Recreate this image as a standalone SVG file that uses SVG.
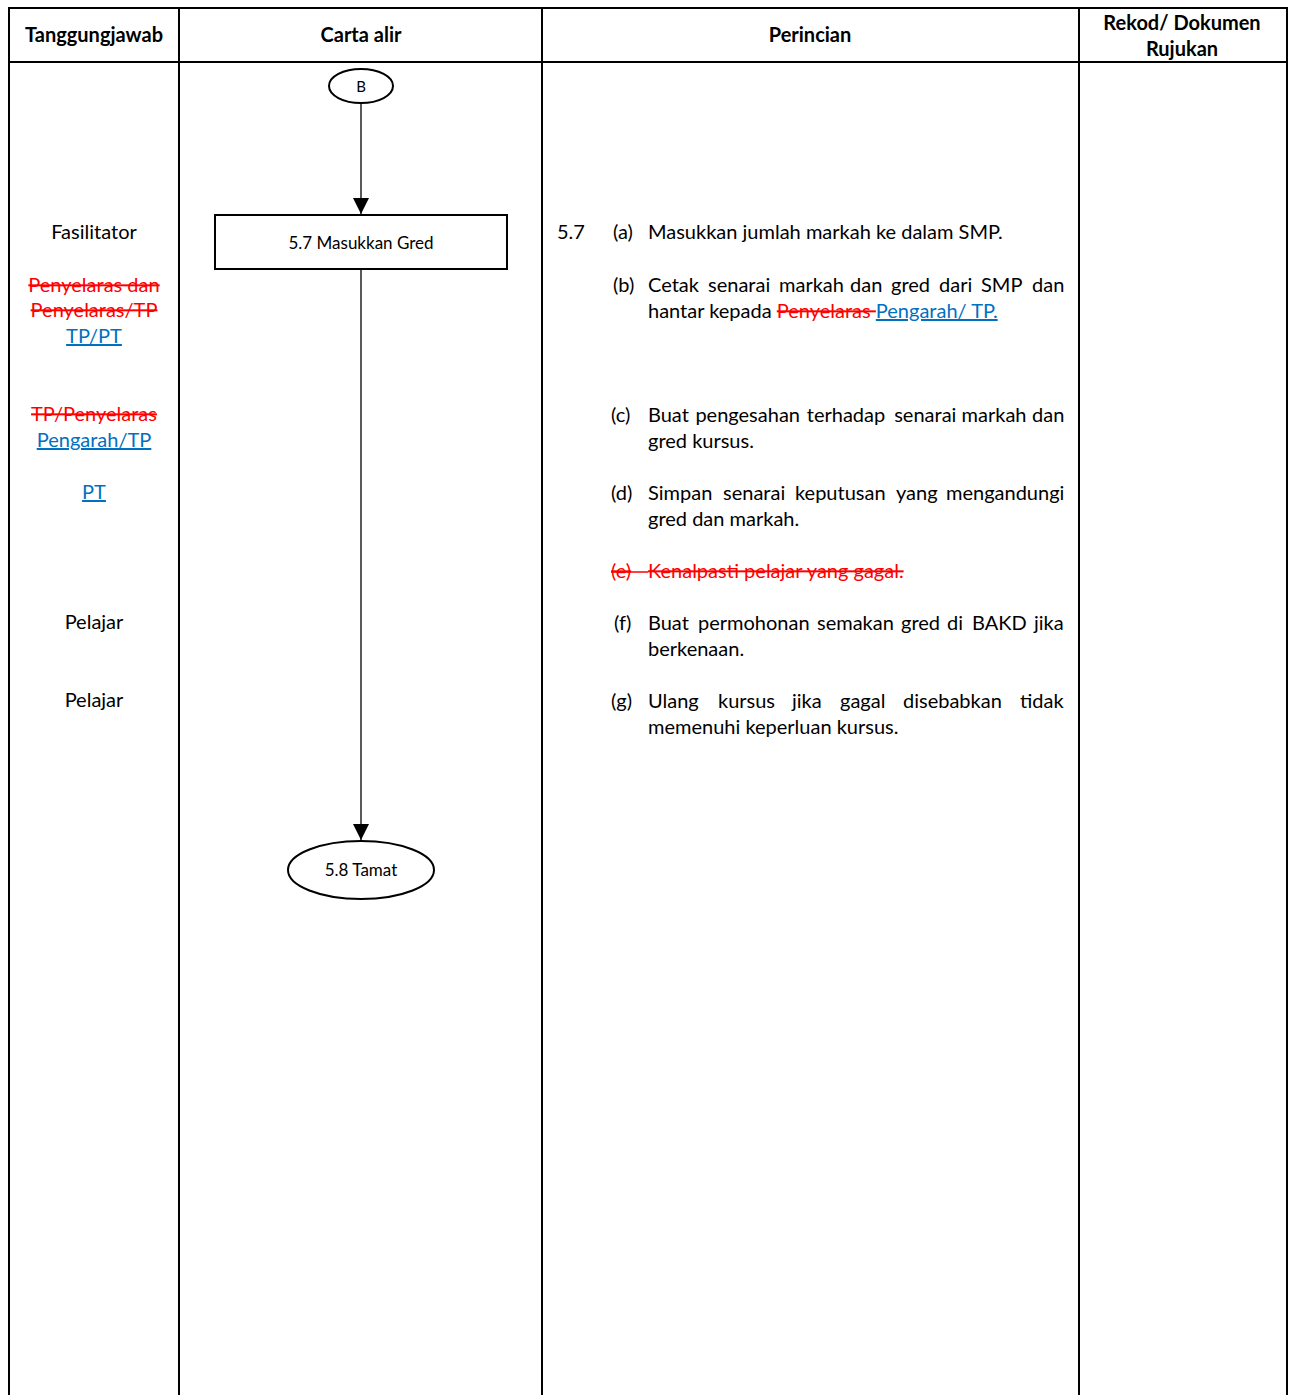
<svg xmlns="http://www.w3.org/2000/svg" width="1290" height="1395" viewBox="0 0 1290 1395">
<style>
text{font-family:Lato,"Open Sans","Liberation Sans",sans-serif;fill:#000}
.h{font-size:20px;font-weight:bold;text-anchor:middle}
.t{font-size:20px}
.c{text-anchor:middle}
.n{font-size:17px;text-anchor:middle}
.del{fill:#ff0000;text-decoration:line-through}
.ins{fill:#0070c0;text-decoration:underline}
.grid{stroke:#000;stroke-width:2;fill:none}
.shape{stroke:#000;stroke-width:2;fill:#fff}
.conn{stroke:#000;stroke-width:1.3;fill:none}
</style>
<defs>
<marker id="ah" viewBox="0 0 10 10" refX="10" refY="5" markerWidth="16" markerHeight="16" markerUnits="userSpaceOnUse" orient="auto">
<path d="M0,0 L10,5 L0,10 z" fill="#000"/>
</marker>
</defs>
<rect width="1290" height="1395" fill="#fff"/>
<g id="table">
<path class="grid" d="M9,1395 V8 H1287 V1395 M179,8 V1395 M542,8 V1395 M1079,8 V1395 M9,62 H1287"/>
<text class="h" x="94" y="42">Tanggungjawab</text>
<text class="h" x="361" y="42">Carta alir</text>
<text class="h" x="810" y="42">Perincian</text>
<text class="h" x="1182" y="30">Rekod/ Dokumen</text>
<text class="h" x="1182" y="56">Rujukan</text>
</g>
<g id="tanggungjawab">
<text class="t c" x="94" y="239">Fasilitator</text>
<text class="t c del" x="94" y="292">Penyelaras dan</text>
<text class="t c del" x="94" y="317">Penyelaras/TP</text>
<text class="t c ins" x="94" y="343">TP/PT</text>
<text class="t c del" x="94" y="421">TP/Penyelaras</text>
<text class="t c ins" x="94" y="447">Pengarah/TP</text>
<text class="t c ins" x="94" y="499">PT</text>
<text class="t c" x="94" y="629">Pelajar</text>
<text class="t c" x="94" y="707">Pelajar</text>
</g>
<g id="connectors">
<line class="conn" x1="361" y1="103" x2="361" y2="214" marker-end="url(#ah)"/>
<line class="conn" x1="361" y1="269" x2="361" y2="840" marker-end="url(#ah)"/>
</g>
<g id="node-B">
<ellipse class="shape" cx="361" cy="86" rx="32" ry="17"/>
<text class="n" x="361" y="92" style="font-size:15px">B</text>
</g>
<g id="node-5-7">
<rect class="shape" x="215" y="215" width="292" height="54"/>
<text class="n" x="361" y="249">5.7 Masukkan Gred</text>
</g>
<g id="node-5-8">
<ellipse class="shape" cx="361" cy="870" rx="73" ry="29"/>
<text class="n" x="361" y="876">5.8 Tamat</text>
</g>
<g id="perincian">
<text class="t" x="557" y="239">5.7</text>
<text class="t" x="613" y="239">(a)</text>
<text class="t" x="648" y="239">Masukkan jumlah markah ke dalam SMP.</text>
<text class="t" x="613" y="292">(b)</text>
<text class="t" y="292"><tspan x="648">Cetak</tspan><tspan x="708">senarai</tspan><tspan x="779">markah</tspan><tspan x="850">dan</tspan><tspan x="891">gred</tspan><tspan x="939">dari</tspan><tspan x="981">SMP</tspan><tspan x="1032">dan</tspan></text>
<text class="t" x="648" y="318">hantar kepada <tspan class="del">Penyelaras </tspan><tspan class="ins">Pengarah/ TP.</tspan></text>
<text class="t" x="611" y="422">(c)</text>
<text class="t" y="422"><tspan x="648">Buat</tspan><tspan x="695.4">pengesahan</tspan><tspan x="806.8">terhadap</tspan><tspan x="894.2">senarai</tspan><tspan x="961.6">markah</tspan><tspan x="1032">dan</tspan></text>
<text class="t" x="648" y="448">gred kursus.</text>
<text class="t" x="611" y="500">(d)</text>
<text class="t" y="500"><tspan x="648">Simpan</tspan><tspan x="723">senarai</tspan><tspan x="795">keputusan</tspan><tspan x="896">yang</tspan><tspan x="946">mengandungi</tspan></text>
<text class="t" x="648" y="526">gred dan markah.</text>
<text class="t del" x="611" y="578">(e)<tspan x="648">Kenalpasti pelajar yang gagal.</tspan></text>
<line x1="611" y1="572" x2="648" y2="572" stroke="#ff0000" stroke-width="1.5"/>
<text class="t" x="614" y="630">(f)</text>
<text class="t" y="630"><tspan x="648">Buat</tspan><tspan x="698">permohonan</tspan><tspan x="817">semakan</tspan><tspan x="901">gred</tspan><tspan x="947">di</tspan><tspan x="972">BAKD</tspan><tspan x="1034">jika</tspan></text>
<text class="t" x="648" y="656">berkenaan.</text>
<text class="t" x="611" y="708">(g)</text>
<text class="t" y="708"><tspan x="648">Ulang</tspan><tspan x="718">kursus</tspan><tspan x="792">jika</tspan><tspan x="840">gagal</tspan><tspan x="903">disebabkan</tspan><tspan x="1020">tidak</tspan></text>
<text class="t" x="648" y="734">memenuhi keperluan kursus.</text>
</g>
</svg>
